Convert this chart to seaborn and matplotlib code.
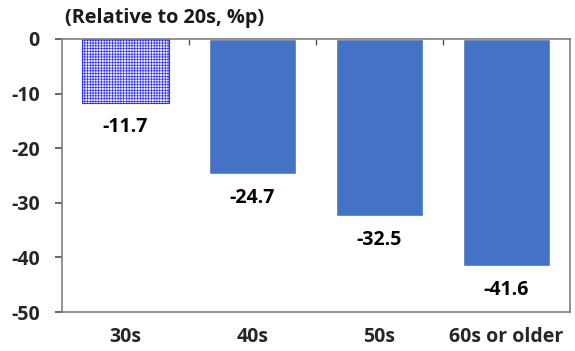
import matplotlib
matplotlib.use("Agg")
import matplotlib.pyplot as plt
import seaborn as sns
import pandas as pd
from matplotlib.ticker import FixedLocator

categories = ["30s", "40s", "50s", "60s or older"]
values = [-11.7, -24.7, -32.5, -41.6]
yticks = [0, -10, -20, -30, -40, -50]

sns.set_theme(style="white")
plt.rcParams['font.family'] = ['Open Sans', 'DejaVu Sans']
plt.rcParams['hatch.linewidth'] = 0.5

df = pd.DataFrame({"cat": categories, "val": values})

fig = plt.figure(figsize=(5.75, 3.51), dpi=100)
ax = fig.add_axes([62/575, 1 - 312/351, (570-62)/575, (312-39)/351])

sns.barplot(data=df, x="cat", y="val", ax=ax, color="#4472C4", width=0.68,
            saturation=1)

p0 = ax.patches[0]
p0.set_facecolor("#f2f2ff")
p0.set_edgecolor("#3030ff")
p0.set_hatch("++++++")
p0.set_linewidth(0.8)

ax.set_ylim(-50, 0)
ax.set_xlim(-0.5, 3.5)
ax.set_yticks(yticks)
ax.set_yticklabels([str(t) for t in yticks], fontsize=14, fontweight="bold")
ax.set_xticks(range(len(categories)))
ax.set_xticklabels(categories, fontsize=14, fontweight="bold")
ax.set_xlabel("")
ax.set_ylabel("")
ax.tick_params(axis="x", which="major", length=0, pad=11)
ax.xaxis.set_minor_locator(FixedLocator([0.5, 1.5, 2.5]))
ax.tick_params(axis="x", which="minor", top=True, bottom=False, direction="in",
               length=4, color="#555555")
ax.tick_params(axis="y", which="major", left=True, direction="out", length=5,
               color="#555555", pad=11)

for s in ax.spines.values():
    s.set_color("#7f7f7f")
    s.set_linewidth(1.2)

for i, v in enumerate(values):
    ax.text(i, v - 4.4, f"{v:.1f}", ha="center", va="center",
            fontsize=14, fontweight="bold", color="black")

fig.text(65/575, 1 - 18/351, "(Relative to 20s, %p)", ha="left", va="center",
         fontsize=14.3, fontweight="bold", color="#1a1a1a")

fig.savefig("out.png", dpi=100)
